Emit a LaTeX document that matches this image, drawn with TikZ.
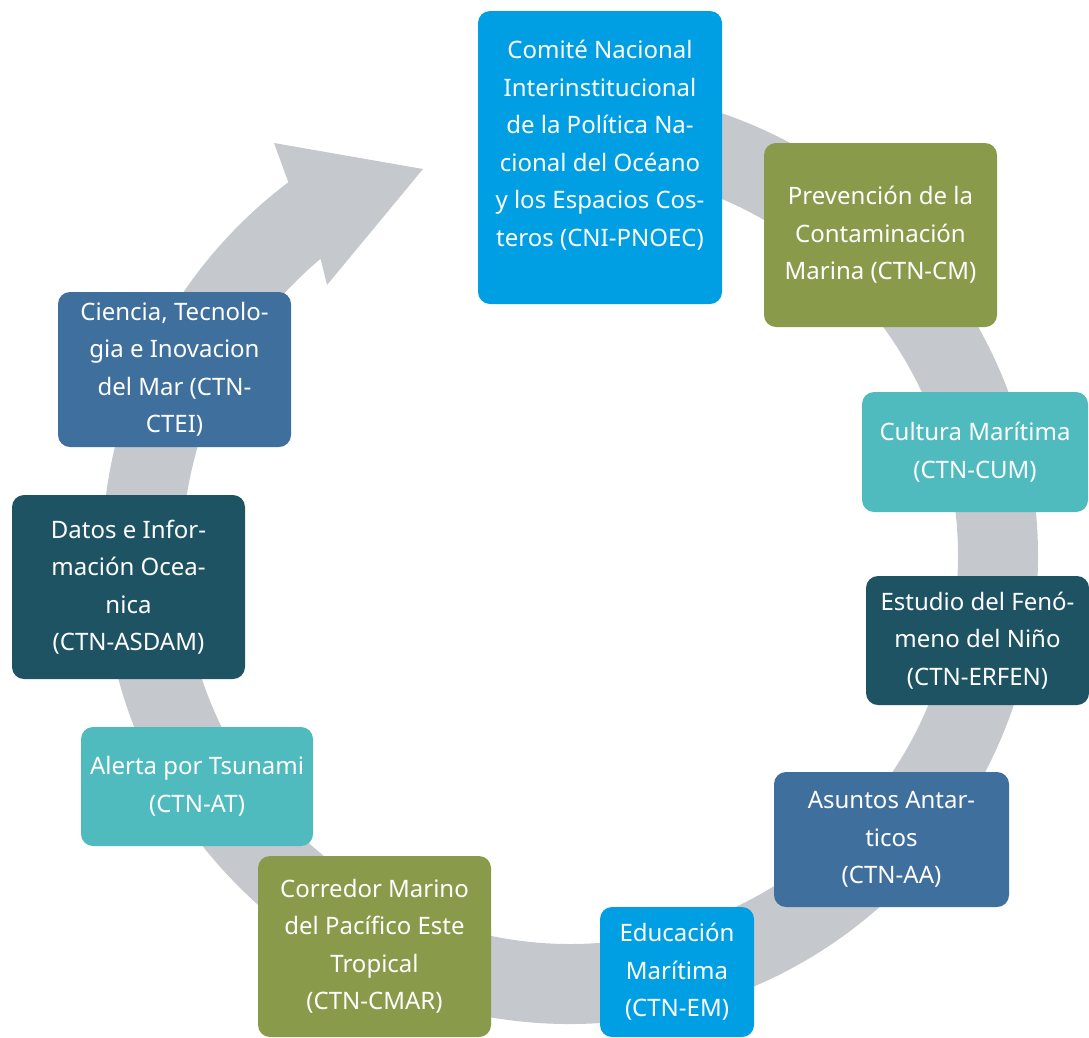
\documentclass[tikz,border=0pt]{standalone}
\usepackage{fontspec}
\setmainfont{Noto Sans}
\usepackage{tikz}
\usetikzlibrary{positioning}

\definecolor{azul}{HTML}{009FE3}
\definecolor{oliva}{HTML}{8A9A4B}
\definecolor{turquesa}{HTML}{4FBBBF}
\definecolor{petroleo}{HTML}{1E5364}
\definecolor{acero}{HTML}{3F6F9D}
\definecolor{gris}{HTML}{C5C8CC}

\begin{document}
\begin{tikzpicture}[x=1pt, y=1pt]
\tikzset{
    %estilo de las cajas
    caja/.style={
           rectangle, rounded corners=12pt,
           inner sep=0pt,
           text=white,
           align=center,
           font=\fontsize{24}{37.5}\selectfont},
    %anillo
    anillo/.style={fill=gris}
}
\useasboundingbox (0,0) rectangle (1089,-1037);

%Anillo con flecha
\fill[anillo, shift={(570,-556)}] (95:468) arc[start angle=95, end angle=-233, radius=468]
    -- (-296,413) -- (-147,387) -- (-243,271)
    -- (-230:388) arc[start angle=-230, end angle=95, radius=388] -- cycle;

%Cajas
\node(cni)   [caja, fill=azul, minimum width=244, minimum height=293] at (600,-157.5)
    {Comité Nacional\\Interinstitucional\\de la Política Na-\\cional del Océano\\y los Espacios Cos-\\teros (CNI-PNOEC)\\[-9pt]\mbox{}};
\node(cm)    [caja, fill=oliva, minimum width=233, minimum height=184] at (880.5,-235)
    {Prevención de la\\Contaminación\\Marina (CTN-CM)};
\node(cum)   [caja, fill=turquesa, minimum width=226, minimum height=120] at (975,-452)
    {Cultura Marítima\\(CTN-CUM)};
\node(erfen) [caja, fill=petroleo, minimum width=223, minimum height=129] at (977.5,-640.5)
    {Estudio del Fenó-\\meno del Niño\\(CTN-ERFEN)};
\node(aa)    [caja, fill=acero, minimum width=235, minimum height=135] at (891.5,-839.5)
    {Asuntos Antar-\\ticos\\(CTN-AA)};
\node(em)    [caja, fill=azul, minimum width=154, minimum height=130] at (677,-972)
    {Educación\\Marítima\\(CTN-EM)};
\node(cmar)  [caja, fill=oliva, minimum width=233, minimum height=181] at (374.5,-946.5)
    {Corredor Marino\\del Pacífico Este\\Tropical\\(CTN-CMAR)};
\node(at)    [caja, fill=turquesa, minimum width=232, minimum height=119] at (197,-786.5)
    {Alerta por Tsunami\\(CTN-AT)};
\node(asdam) [caja, fill=petroleo, minimum width=233, minimum height=184] at (128.5,-587)
    {Datos e Infor-\\mación Ocea-\\nica\\(CTN-ASDAM)};
\node(ctei)  [caja, fill=acero, minimum width=233, minimum height=155] at (174.5,-369.5)
    {Ciencia, Tecnolo-\\gia e Inovacion\\del Mar (CTN-\\CTEI)};
\end{tikzpicture}
\end{document}
